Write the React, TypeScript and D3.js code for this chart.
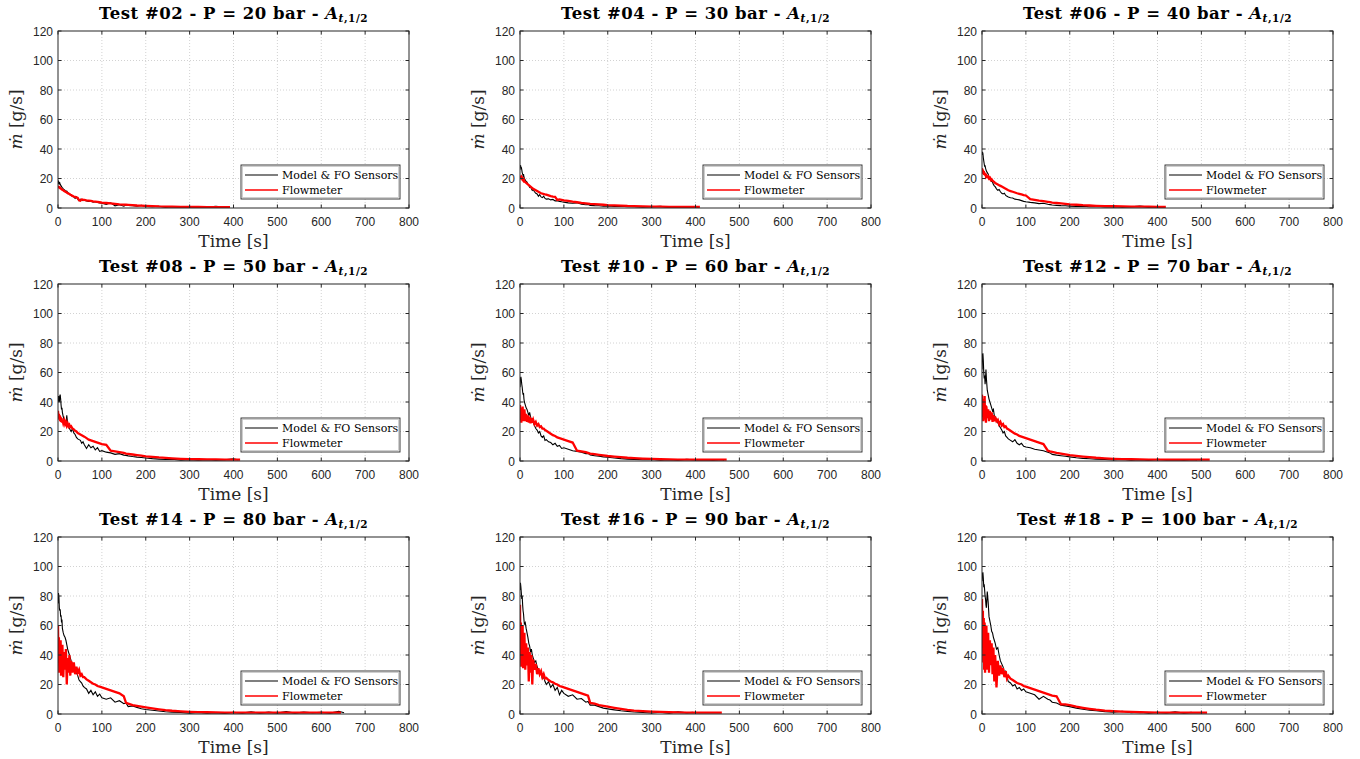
import React from "react";
import * as d3 from "d3";

// shared time samples [s]
const T = [
  0, 1, 2, 3, 4, 5, 6, 7, 8, 9, 10,
  12, 14, 16, 18, 20, 22, 24, 26, 28, 30,
  33, 36, 39, 42, 45, 48, 51, 54, 57, 60,
  65, 70, 75, 80, 85, 90, 95, 100,
  110, 120, 130, 140, 150, 155, 160, 170, 180, 190, 200,
  215, 230, 245, 260, 280, 300, 320, 340, 360, 380, 400, 420, 440, 460, 480, 500,
  520, 540, 560, 580, 600, 620, 640, 655,
];

const testIds = ["02", "04", "06", "08", "10", "12", "14", "16", "18"];
const pressures = [20, 30, 40, 50, 60, 70, 80, 90, 100];
const xTicks = [0, 100, 200, 300, 400, 500, 600, 700, 800];
const yTicks = [0, 20, 40, 60, 80, 100, 120];

// Model & FO Sensors [g/s]
const blk02 = [
  16, 18, 17.5, 16.5, 17, 16, 15.5, 15, 14.5, 14, 13.8,
  13, 12.5, 12, 11, 11.5, 10.5, 10, 9.5, 9, 8.5,
  8, 7.5, 6.5, 7.5, 6, 5, 6, 5.5, 5, 5.2,
  4.8, 4.5, 4.6, 4, 4.2, 3.8, 3.5, 3.2,
  2.5, 3.5, 1.5, 2.2, 1.2, 2, 1.8, 1.5, 1.2, 1.8, 1,
  0.8, 1.2, 0.6, 0.9, 0.5, 0.8, 0.4, 0.6, 1.2, 0.5, 0.8,
];
const blk04 = [
  26, 29, 28, 27.5, 26, 24, 23, 22, 23, 21, 20,
  19, 18, 17.5, 16, 15.5, 14, 14.5, 13, 12, 12.5,
  11, 10, 9.5, 8, 9, 7.5, 7, 8, 6.5, 6,
  6.2, 5.5, 5.8, 4.8, 5, 4.5, 4.2, 4,
  3.5, 3.2, 3.5, 2.5, 2.2, 2.4, 1.8, 1.6, 1.5, 1.2, 1.4,
  1, 1.2, 0.8, 0.9, 0.6, 0.8, 1.2, 0.5, 0.7, 0.4, 0.9, 0.6,
];
const blk06 = [
  36, 38, 37, 34, 32, 30, 28, 29, 27, 26, 25,
  24, 23, 21, 20.5, 19, 18, 17.5, 16, 15, 14.5,
  13, 12, 12.5, 11, 10, 9.5, 10, 8.5, 8, 7.5,
  7, 6.8, 6, 5.8, 5.5, 5, 4.5, 4.2,
  3.8, 3.5, 3, 3.2, 2.5, 2.3, 2, 1.8, 1.6, 1.5, 1.3,
  1.1, 1.3, 0.8, 1, 0.7, 0.9, 0.5, 0.8, 1.3, 0.6, 0.9, 0.6,
];
const blk08 = [
  40, 44, 43, 40, 44, 45, 42, 38, 35, 36, 33,
  30, 28, 26, 24, 31, 25, 23, 22, 21, 20,
  22, 19, 18, 16, 15, 14.5, 14, 12, 13, 11,
  8.5, 11, 9, 10, 7.5, 9, 6.5, 7,
  6, 5.5, 4.5, 5, 4, 3.8, 3.5, 3, 2.6, 2.4, 2,
  1.6, 1.3, 1, 1.2, 0.6, 0.8, 0.5, 0.9, 0.6, 0.8, 1.5, 0.8,
];
const blk10 = [
  50, 56, 57, 55, 52, 50, 47, 45, 46, 42, 40,
  38, 36, 35, 33, 31, 33, 30, 28, 27, 26,
  24, 22, 21, 19, 20, 17, 16, 17, 14, 14.5,
  13, 12.5, 11, 12, 10, 10.5, 8.5, 9,
  8, 7, 6.5, 6, 5, 5.2, 4, 3.6, 3.2, 2.8, 2.5,
  2, 1.6, 1.3, 1.1, 0.8, 1, 0.6, 0.9, 0.5, 1.2, 0.7, 0.9, 0.5, 1, 0.6,
];
const blk12 = [
  62, 72, 73, 68, 60, 56, 58, 52, 55, 62, 56,
  48, 45, 42, 40, 38, 36, 34, 35, 31, 30,
  28, 26, 24, 22.5, 21, 19, 20, 17, 16, 15,
  14, 13, 14.5, 12, 11, 12, 10, 9.5,
  9, 8, 7.5, 7, 6, 5.5, 4.5, 4, 3.6, 3.2, 2.8,
  2.2, 1.8, 1.5, 1.2, 1, 0.7, 1.1, 0.6, 0.9, 0.5, 1.2, 0.7, 0.9, 0.5, 1, 0.7,
];
const blk14 = [
  75, 82, 80, 72, 70, 71, 66, 67, 62, 64, 58,
  55, 53, 52, 50, 47, 44, 42, 40, 38, 36,
  34, 32, 30, 28, 26, 23, 22, 21, 19, 18,
  17, 14, 16, 13, 15, 12, 13.5, 11,
  10, 11, 8, 9, 7, 7.5, 5, 5.5, 4.5, 3.5, 3,
  2.5, 2, 1.5, 1.3, 1, 0.6, 1, 0.5, 0.8, 0.4, 1.2, 0.6, 1.5, 0.5, 1.3, 0.7,
  1.6, 0.6, 1.4, 0.8, 1.2, 0.6, 1.8, 0.8,
];
const blk16 = [
  84, 89, 86, 82, 78, 80, 74, 70, 68, 64, 61,
  62, 58, 55, 52, 48, 46, 42, 44, 40, 38,
  35, 36, 32, 30, 27, 28, 24, 25, 22, 20,
  22, 18, 20, 16, 18, 13, 16, 14,
  12, 13, 10, 10.5, 8, 8.5, 6, 6, 5, 4, 3.5,
  2.8, 2.2, 1.8, 1.4, 1, 0.7, 1.2, 0.6, 1.5, 0.8, 1.2,
];
const blk18 = [
  90, 95, 96, 92, 86, 88, 84, 80, 78, 74, 72,
  83, 76, 66, 63, 60, 56, 55, 52, 50, 48,
  44, 45, 40, 36, 34, 32, 28, 29, 25, 22,
  21, 19, 20, 17, 18, 16, 17, 15,
  14, 13, 10, 12, 10, 9.5, 8, 7.5, 6, 5.5, 5,
  4, 3.2, 2.5, 2.2, 1.6, 1.2, 1.8, 0.8, 1.4, 0.6, 1.2, 0.7, 1.5, 0.6, 1.2,
];

// Flowmeter [g/s]
const red02 = [
  15, 14.5, 14.2, 13.8, 14, 13.5, 13.2, 13, 12.8, 12.5, 12.3,
  12, 11.5, 11.2, 10.8, 10.5, 10, 9.8, 9.5, 9, 8.8,
  8.2, 7.8, 7.5, 7.2, 6.8, 5.2, 5, 5.8, 5.6, 5.5,
  5.2, 5, 4.8, 4.5, 4.3, 4.1, 3.9, 3.7,
  3.4, 3.1, 2.8, 2.5, 2.3, 2.2, 2.1, 1.9, 1.7, 1.6, 1.5,
  1.3, 1.1, 1, 0.9, 0.8, 0.7, 0.7, 0.6, 0.6, 0.6, 0.5,
];
const red04 = [
  22, 21, 20.5, 21, 20, 19.5, 20, 19, 18.5, 19, 18,
  17.5, 17, 16.5, 16, 15.5, 15, 14.5, 14, 13.5, 13,
  12.5, 12, 11.5, 11, 10.5, 10, 9.8, 9.5, 9.2, 9,
  8.5, 8, 7.7, 7.5, 5.5, 5.8, 5.5, 5.2,
  4.8, 4.3, 3.9, 3.5, 3.2, 3, 2.8, 2.6, 2.4, 2.2, 2,
  1.8, 1.6, 1.4, 1.3, 1.1, 1, 0.9, 0.8, 0.8, 0.7, 0.7, 0.7,
];
const red06 = [
  27, 24, 26, 23, 25, 22.5, 24, 22, 23.5, 21.5, 22,
  21, 21.5, 20, 20.5, 19, 19.5, 18.5, 18, 17.5, 17,
  16.5, 16, 15.5, 15, 14.5, 14, 13.5, 13, 12.5, 12,
  11.5, 11, 10.5, 10, 9.6, 9.2, 8.8, 8.5,
  6, 5.5, 5, 4.6, 4.2, 4, 3.7, 3.4, 3.1, 2.8, 2.5,
  2.2, 1.9, 1.7, 1.5, 1.3, 1.2, 1.1, 1, 0.9, 0.9, 0.8, 0.8,
];
const red08 = [
  34, 30, 32, 28, 31, 27, 30, 26.5, 29, 26, 28,
  25.5, 27.5, 25, 26.5, 24, 25.5, 23.5, 24.5, 23, 23.5,
  22, 21.5, 20.5, 20, 19, 18.5, 18, 17.5, 17, 16.5,
  15.5, 14.5, 14, 13.5, 13, 12.5, 12, 11.5,
  11, 7, 6.5, 6, 5.5, 5, 4.8, 4.4, 4, 3.6, 3.2,
  2.8, 2.4, 2.1, 1.8, 1.5, 1.3, 1.2, 1.1, 1.1, 1, 1, 1,
];
const red10 = [
  38, 28, 36, 26, 34, 29, 37, 27, 33, 28, 35,
  27, 32, 26.5, 31, 26, 30, 25.5, 29, 26, 28,
  25, 26.5, 24, 25, 23, 23.5, 22, 22, 21, 20.5,
  19.5, 18.5, 17.5, 17, 16, 15.5, 15, 14.5,
  13.5, 12.5, 7, 6.5, 6, 5.5, 5, 4.6, 4.2, 3.8, 3.4,
  3, 2.6, 2.2, 1.9, 1.6, 1.4, 1.2, 1.1, 1, 1, 0.9, 0.9, 0.9, 0.9, 0.9,
];
const red12 = [
  45, 30, 42, 27, 40, 31, 44, 28, 38, 26, 37,
  29, 35, 27, 34, 28, 33, 26.5, 31, 27, 30,
  27, 28, 25, 26.5, 24, 25, 23, 23.5, 22, 21.5,
  20.5, 19.5, 18.5, 18, 17, 16.5, 16, 15.5,
  14.5, 13.5, 12.5, 11.5, 7, 6.5, 6.2, 5.5, 5, 4.5, 4,
  3.5, 3, 2.6, 2.2, 1.8, 1.5, 1.3, 1.2, 1.1, 1, 1, 0.9, 0.9, 0.9, 0.9, 0.9, 0.9,
];
const red14 = [
  60, 35, 52, 28, 48, 30, 50, 26, 45, 33, 47,
  25, 42, 30, 44, 20, 38, 28, 40, 26, 36,
  28, 35, 27, 32, 28, 30, 26, 27, 25, 25,
  23.5, 22.5, 21.5, 20.5, 20, 19, 18.5, 18,
  17, 16, 15, 14, 12, 7.5, 7, 6, 5.5, 5, 4.5,
  3.8, 3.2, 2.6, 2.2, 1.8, 1.5, 1.3, 1.2, 1.1, 1, 1, 0.9, 0.9, 0.9, 0.9, 0.9,
  0.9, 0.9, 0.9, 0.9, 0.9, 0.9, 0.9, 0.9,
];
const red16 = [
  74, 40, 62, 32, 58, 36, 60, 31, 52, 38, 55,
  30, 48, 33, 45, 22, 42, 28, 40, 20, 37,
  30, 34, 27, 31, 27, 29, 25, 27, 24, 24.5,
  23, 22, 21.5, 20.5, 20, 19, 18.5, 18,
  17, 16, 15, 14, 13, 12.5, 7.5, 7, 6, 5.5, 5,
  4.2, 3.5, 2.8, 2.3, 1.9, 1.6, 1.4, 1.2, 1.1, 1, 1, 0.9, 0.9, 0.9,
];
const red18 = [
  78, 45, 70, 35, 65, 30, 62, 28, 58, 40, 60,
  30, 55, 28, 50, 33, 48, 27, 45, 22, 40,
  18, 36, 26, 33, 27, 31, 25, 29, 24, 26,
  24, 23, 22, 21, 20.5, 20, 19, 18.5,
  17.5, 16.5, 15.5, 14.5, 13.5, 13, 12.5, 12, 6.5, 6.5, 6,
  5, 4.2, 3.5, 2.9, 2.3, 1.9, 1.6, 1.4, 1.2, 1.1, 1, 1, 0.9, 0.9, 0.9, 0.9, 0.9,
];

const blackSeries = [blk02, blk04, blk06, blk08, blk10, blk12, blk14, blk16, blk18];
const redSeries = [red02, red04, red06, red08, red10, red12, red14, red16, red18];
// time of the last sample of each record [s]
const blackEnds = [385, 405, 410, 410, 465, 490, 652, 395, 478];
const redEnds = [392, 410, 419, 415, 471, 519, 645, 460, 513];

const lefts = [58, 520, 982];
const tops = [31, 284, 537];
const W = 351;
const H = 177;

const serif = "'DejaVu Serif', 'Liberation Serif', serif";
const sans = "'Liberation Sans', Arial, sans-serif";
const axisColor = "#262626";

function toPoints(values: number[], end: number): [number, number][] {
  return values.map((v, i) => [i === values.length - 1 ? end : T[i], v]);
}

function Panel({ idx }: { idx: number }) {
  const left = lefts[idx % 3];
  const top = tops[Math.floor(idx / 3)];
  const x = d3.scaleLinear().domain([0, 800]).range([0, W]);
  const y = d3.scaleLinear().domain([0, 120]).range([H, 0]);
  const line = d3
    .line<[number, number]>()
    .x((d) => x(d[0]))
    .y((d) => y(d[1]));
  const clipId = `clip${idx}`;
  const lgX = W - 168;
  const lgY = H - 43;

  return (
    <g transform={`translate(${left},${top})`}>
      <defs>
        <clipPath id={clipId}>
          <rect x={0} y={0} width={W} height={H} />
        </clipPath>
      </defs>
      <rect x={0} y={0} width={W} height={H} fill="#fff" />
      {/* grid */}
      {xTicks.slice(1, -1).map((t) => (
        <line key={"gx" + t} x1={x(t)} x2={x(t)} y1={0} y2={H} stroke="#d2d2d2" strokeDasharray="1,2" />
      ))}
      {yTicks.slice(1, -1).map((t) => (
        <line key={"gy" + t} x1={0} x2={W} y1={y(t)} y2={y(t)} stroke="#d2d2d2" strokeDasharray="1,2" />
      ))}
      {/* data */}
      <g clipPath={`url(#${clipId})`}>
        <path d={line(toPoints(blackSeries[idx], blackEnds[idx])) || ""} fill="none" stroke="#000" strokeWidth={1.1} />
        <path d={line(toPoints(redSeries[idx], redEnds[idx])) || ""} fill="none" stroke="#ff0000" strokeWidth={2.3} />
      </g>
      {/* box and ticks */}
      <rect x={0} y={0} width={W} height={H} fill="none" stroke={axisColor} strokeWidth={1} />
      {xTicks.map((t) => (
        <g key={"tx" + t}>
          <line x1={x(t)} x2={x(t)} y1={H} y2={H - 3.5} stroke={axisColor} />
          <line x1={x(t)} x2={x(t)} y1={0} y2={3.5} stroke={axisColor} />
          <text x={x(t)} y={H + 18} textAnchor="middle" fontFamily={sans} fontSize={12} fill={axisColor}>
            {t}
          </text>
        </g>
      ))}
      {yTicks.map((t) => (
        <g key={"ty" + t}>
          <line x1={0} x2={3.5} y1={y(t)} y2={y(t)} stroke={axisColor} />
          <line x1={W} x2={W - 3.5} y1={y(t)} y2={y(t)} stroke={axisColor} />
          <text x={-5} y={y(t) + 4.5} textAnchor="end" fontFamily={sans} fontSize={12} fill={axisColor}>
            {t}
          </text>
        </g>
      ))}
      {/* labels */}
      <text x={W / 2} y={H + 39} textAnchor="middle" fontFamily={serif} fontSize={17} fill={axisColor}>
        Time [s]
      </text>
      <text
        transform={`translate(${-36},${H / 2}) rotate(-90)`}
        textAnchor="middle"
        fontFamily={serif}
        fontSize={17}
        fill={axisColor}
      >
        <tspan fontStyle="italic">ṁ</tspan> [g/s]
      </text>
      <text
        x={W / 2}
        y={-12}
        textAnchor="middle"
        fontFamily={serif}
        fontSize={16.5}
        fontWeight="bold"
        letterSpacing={0.5}
        fill="#000"
      >
        {`Test #${testIds[idx]} - P = ${pressures[idx]} bar - `}
        <tspan fontStyle="italic">A</tspan>
        <tspan fontSize={10.5} dy={3}>
          <tspan fontStyle="italic">t</tspan>,1/2
        </tspan>
      </text>
      {/* legend */}
      <g transform={`translate(${lgX},${lgY})`}>
        <rect x={0} y={0} width={159} height={34} fill="#fff" stroke={axisColor} strokeWidth={0.9} />
        <rect x={1.5} y={1.5} width={156} height={31} fill="none" stroke="#c4c4c4" strokeWidth={0.8} />
        <line x1={4} x2={37} y1={10} y2={10} stroke="#000" strokeWidth={1.1} />
        <line x1={4} x2={37} y1={25} y2={25} stroke="#ff0000" strokeWidth={1.6} />
        <text x={41} y={14} fontFamily={serif} fontSize={11} fill="#000">
          Model &amp; FO Sensors
        </text>
        <text x={41} y={29} fontFamily={serif} fontSize={11} fill="#000">
          Flowmeter
        </text>
      </g>
    </g>
  );
}

export default function App() {
  return (
    <svg
      width={1360}
      height={759}
      style={{ position: "absolute", left: 0, top: 0, background: "#fff" }}
    >
      {testIds.map((_, i) => (
        <Panel key={i} idx={i} />
      ))}
    </svg>
  );
}
